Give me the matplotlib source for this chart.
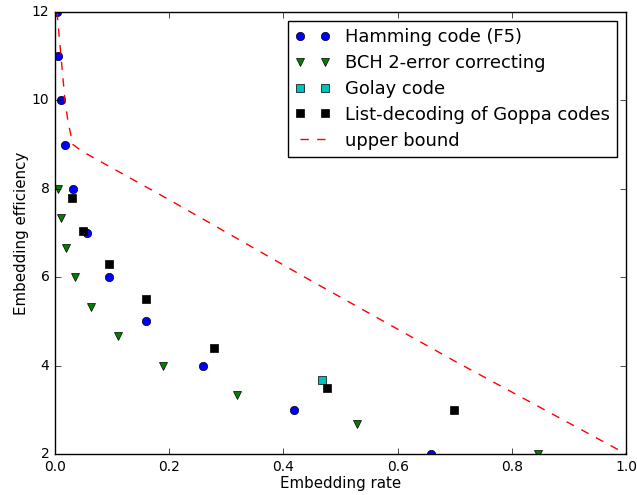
import matplotlib
matplotlib.use("Agg")
import matplotlib.pyplot as plt

plt.style.use('classic')

ham_x = [0.0029, 0.0054, 0.0098, 0.0176, 0.031, 0.0555, 0.095, 0.159, 0.259, 0.418, 0.658]
ham_y = [12, 11, 10, 9, 8, 7, 6, 5, 4, 3, 2]

bch_x = [0.0058, 0.0105, 0.0187, 0.0345, 0.0625, 0.11, 0.189, 0.318, 0.528, 0.846]
bch_y = [8.0, 7.33, 6.67, 6.0, 5.33, 4.67, 4.0, 3.33, 2.67, 2.0]

golay_x = [0.468]
golay_y = [3.67]

goppa_x = [0.030, 0.0496, 0.095, 0.159, 0.279, 0.477, 0.698]
goppa_y = [7.78, 7.05, 6.29, 5.5, 4.4, 3.5, 3.0]

bound_x = [0.0035, 0.0105, 0.0175, 0.023, 0.0315, 0.047, 0.2, 0.44, 0.7, 1.0]
bound_y = [12.0, 11.0, 10.0, 9.5, 9.0, 8.85, 7.75, 5.98, 4.1, 2.0]

fig = plt.figure(figsize=(6.37, 4.95), dpi=100)
ax = fig.add_axes([0.0863, 0.0828, 0.8967, 0.8932])
ax.plot(ham_x, ham_y, 'bo', label='Hamming code (F5)')
ax.plot(bch_x, bch_y, 'gv', label='BCH 2-error correcting')
ax.plot(golay_x, golay_y, 'cs', label='Golay code')
ax.plot(goppa_x, goppa_y, 'ks', label='List-decoding of Goppa codes')
ax.plot(bound_x, bound_y, 'r--', label='upper bound')
ax.set_xlim(0, 1.0)
ax.set_ylim(2, 12)
ax.tick_params(labelsize=10)
ax.set_xlabel('Embedding rate', fontsize=10.8, labelpad=2)
ax.set_ylabel('Embedding efficiency', fontsize=10.8, labelpad=2)
ax.legend(loc='upper right', numpoints=2, fontsize=12.9, labelspacing=0.44)
fig.savefig('out.png', dpi=100)
